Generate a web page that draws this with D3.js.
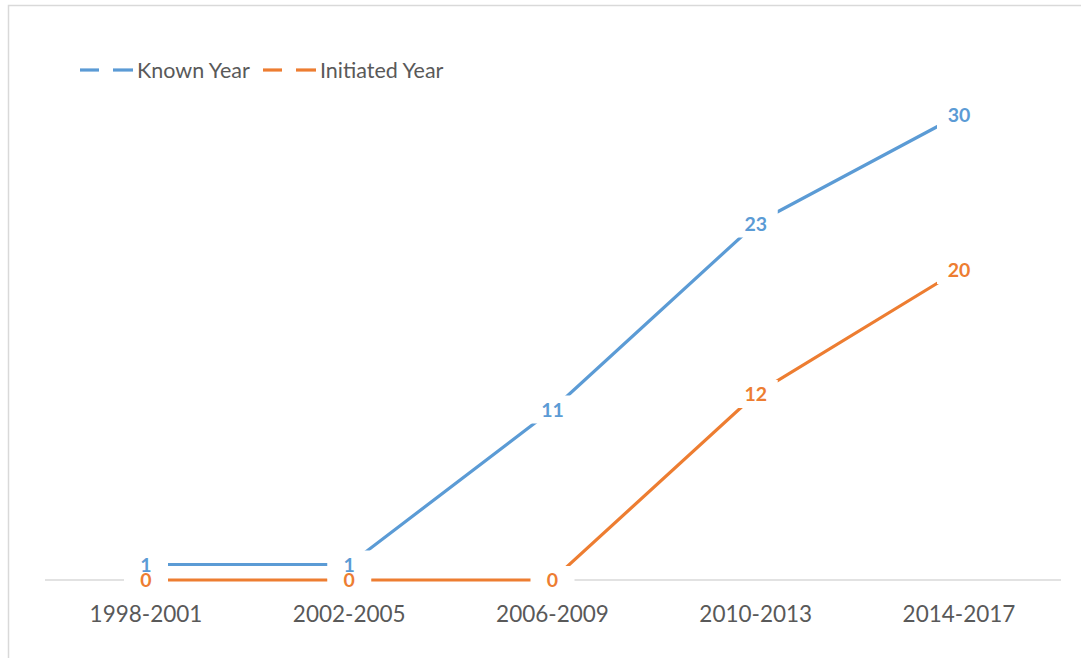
<!DOCTYPE html>
<html lang="en">
<head>
  <meta charset="UTF-8" />
  <title>Known vs Initiated Year</title>
  <script src="https://d3js.org/d3.v7.min.js"></script>
  <style>
    body { margin: 0; background: #fff; }
    svg { display: block; font-family: Lato, "Open Sans", sans-serif; }
  </style>
</head>
<body>
  <svg id="chart" width="1081" height="658"></svg>
  <script>
    const periods = ["1998-2001", "2002-2005", "2006-2009", "2010-2013", "2014-2017"];
    const knownYear = [1, 1, 11, 23, 30];
    const initiatedYear = [0, 0, 0, 12, 20];
    const seriesNames = ["Known Year", "Initiated Year"];
    const colors = ["#5B9BD5", "#ED7D31"];

    const width = 1081, height = 658;
    const svg = d3.select("#chart");

    // chart frame (right/bottom edges fall outside the view)
    svg.append("rect")
      .attr("x", 8.5).attr("y", 5.5)
      .attr("width", width + 20).attr("height", height + 20)
      .attr("fill", "none").attr("stroke", "#d9d9d9").attr("stroke-width", 1.5);

    const x = d3.scalePoint().domain(periods).range([146, 959]);
    const y = d3.scaleLinear().domain([0, 35]).range([580, 37.5]);

    // category axis
    svg.append("line")
      .attr("x1", 45).attr("x2", 1061)
      .attr("y1", y(0)).attr("y2", y(0))
      .attr("stroke", "#d9d9d9").attr("stroke-width", 1.5);

    svg.append("g").selectAll("text")
      .data(periods)
      .join("text")
      .attr("x", d => x(d))
      .attr("y", 622)
      .attr("text-anchor", "middle")
      .attr("font-size", 22.5)
      .attr("fill", "#595959")
      .text(d => d);

    const series = [knownYear, initiatedYear].map((vals, i) => ({
      name: seriesNames[i],
      color: colors[i],
      points: vals.map((v, j) => ({ cat: periods[j], value: v }))
    }));

    const line = d3.line().x(d => x(d.cat)).y(d => y(d.value));

    svg.append("g").selectAll("path")
      .data(series)
      .join("path")
      .attr("d", d => line(d.points))
      .attr("fill", "none")
      .attr("stroke", d => d.color)
      .attr("stroke-width", 3.2);

    // label boxes first, then label text
    const all = series.flatMap(s => s.points.map(p => ({ ...p, color: s.color })));

    svg.append("g").selectAll("rect")
      .data(all)
      .join("rect")
      .attr("x", d => x(d.cat) - 22)
      .attr("y", d => y(d.value) - 14)
      .attr("width", 44)
      .attr("height", 28)
      .attr("fill", "#fff");

    svg.append("g").selectAll("text")
      .data(all)
      .join("text")
      .attr("x", d => x(d.cat))
      .attr("y", d => y(d.value) + 7)
      .attr("text-anchor", "middle")
      .attr("font-size", 19.5)
      .attr("font-weight", "bold")
      .attr("fill", d => d.color)
      .text(d => d.value);

    // legend
    const legendX = [80, 263];
    const legend = svg.append("g").selectAll("g")
      .data(series)
      .join("g")
      .attr("transform", (d, i) => `translate(${legendX[i]}, 70)`);

    legend.append("line")
      .attr("x1", 0).attr("x2", 19).attr("y1", 0).attr("y2", 0)
      .attr("stroke", d => d.color).attr("stroke-width", 3.2);
    legend.append("line")
      .attr("x1", 33).attr("x2", 53).attr("y1", 0).attr("y2", 0)
      .attr("stroke", d => d.color).attr("stroke-width", 3.2);
    legend.append("text")
      .attr("x", 57)
      .attr("y", 7.5)
      .attr("font-size", 21.5)
      .attr("fill", "#595959")
      .text(d => d.name);
  </script>
</body>
</html>
